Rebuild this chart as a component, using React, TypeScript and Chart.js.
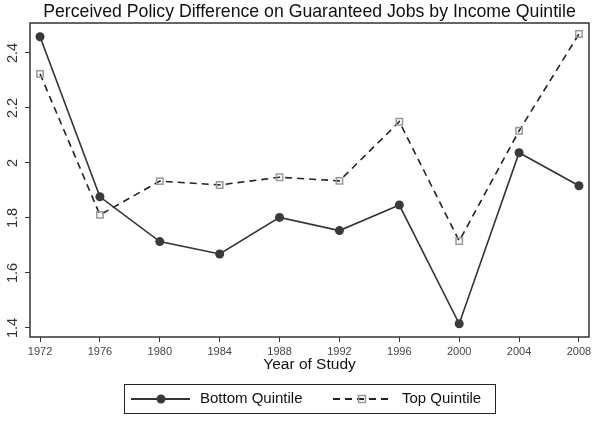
import { useEffect, useRef } from "react";
import { Chart, registerables } from "chart.js";

Chart.register(...registerables);

const title = "Perceived Policy Difference on Guaranteed Jobs by Income Quintile";
const years = [1972, 1976, 1980, 1984, 1988, 1992, 1996, 2000, 2004, 2008];
const bottomQuintile = [2.459, 1.877, 1.714, 1.669, 1.802, 1.754, 1.847, 1.415, 2.037, 1.917];
const topQuintile = [2.324, 1.811, 1.934, 1.92, 1.948, 1.935, 2.15, 1.716, 2.117, 2.469];
const yTicks = [1.4, 1.6, 1.8, 2, 2.2, 2.4];

const FONT = "'Liberation Sans', Arial, Helvetica, sans-serif";

// title over the plot, box around the plot, rotated y labels, framed legend
const framePlugin = {
  id: "frame",
  afterDraw(chart: any) {
    const { ctx, chartArea: a, scales } = chart;
    ctx.save();

    ctx.fillStyle = "#111";
    ctx.font = `17.7px ${FONT}`;
    ctx.textAlign = "center";
    ctx.textBaseline = "middle";
    ctx.fillText(title, (a.left + a.right) / 2, 12);

    ctx.strokeStyle = "#333";
    ctx.lineWidth = 1.5;
    ctx.strokeRect(a.left, a.top, a.right - a.left, a.bottom - a.top);

    ctx.fillStyle = "#333";
    ctx.font = `14.5px ${FONT}`;
    for (const v of yTicks) {
      const y = scales.y.getPixelForValue(v);
      ctx.save();
      ctx.translate(a.left - 17, y);
      ctx.rotate(-Math.PI / 2);
      ctx.fillText(v === 2 ? "2" : String(v), 0, 0);
      ctx.restore();
    }

    // legend
    ctx.strokeStyle = "#222";
    ctx.lineWidth = 1;
    ctx.strokeRect(124.5, 384.5, 371, 29);
    const cy = 399;
    const ds = chart.data.datasets;

    ctx.strokeStyle = ds[0].borderColor;
    ctx.lineWidth = 1.8;
    ctx.beginPath();
    ctx.moveTo(131, cy);
    ctx.lineTo(190, cy);
    ctx.stroke();
    ctx.fillStyle = ds[0].pointBackgroundColor;
    ctx.beginPath();
    ctx.arc(161, cy, 4.5, 0, Math.PI * 2);
    ctx.fill();

    ctx.strokeStyle = ds[1].borderColor;
    ctx.setLineDash(ds[1].borderDash);
    ctx.beginPath();
    ctx.moveTo(333, cy);
    ctx.lineTo(392, cy);
    ctx.stroke();
    ctx.setLineDash([]);
    ctx.strokeStyle = ds[1].pointBorderColor;
    ctx.lineWidth = 1.5;
    ctx.strokeRect(358.5, cy - 3.5, 7, 7);

    ctx.fillStyle = "#111";
    ctx.font = `15px ${FONT}`;
    ctx.textAlign = "left";
    ctx.fillText(ds[0].label, 200, cy);
    ctx.fillText(ds[1].label, 402, cy);
    ctx.restore();
  },
};

export default function App() {
  const canvasRef = useRef<HTMLCanvasElement | null>(null);

  useEffect(() => {
    document.body.style.margin = "0";
    if (!canvasRef.current) return;

    const chart = new Chart(canvasRef.current, {
      type: "line",
      data: {
        datasets: [
          {
            label: "Bottom Quintile",
            data: years.map((x, i) => ({ x, y: bottomQuintile[i] })),
            borderColor: "#333",
            borderWidth: 1.6,
            pointStyle: "circle",
            pointRadius: 4.5,
            pointBackgroundColor: "#3a3a3a",
            pointBorderWidth: 0,
            tension: 0,
          },
          {
            label: "Top Quintile",
            data: years.map((x, i) => ({ x, y: topQuintile[i] })),
            borderColor: "#222",
            borderWidth: 1.6,
            borderDash: [7, 5],
            pointStyle: "rect",
            pointRadius: 4.5,
            pointBackgroundColor: "rgba(0,0,0,0)",
            pointBorderColor: "#999",
            pointBorderWidth: 1.5,
            tension: 0,
          },
        ],
      },
      options: {
        responsive: false,
        animation: false,
        layout: { padding: { left: 0, right: 11, top: 23, bottom: 52 } },
        plugins: {
          legend: { display: false },
          tooltip: { enabled: false },
          title: { display: false },
        },
        scales: {
          x: {
            type: "linear",
            min: 1971.33,
            max: 2008.67,
            afterBuildTicks: (scale: any) => {
              scale.ticks = years.map((value) => ({ value }));
            },
            afterFit: (scale: any) => {
              scale.height = 39;
            },
            border: { display: false },
            grid: { drawOnChartArea: false, drawTicks: true, tickLength: 5, color: "#333" },
            ticks: {
              color: "#444",
              font: { family: FONT, size: 11 },
              padding: 3,
              maxRotation: 0,
              autoSkip: false,
              callback: (v: any) => String(v),
            },
            title: {
              display: true,
              text: "Year of Study",
              color: "#111",
              font: { family: FONT, size: 15.5, lineHeight: 1.2 },
              padding: { top: 0, bottom: 2 },
            },
          },
          y: {
            type: "linear",
            min: 1.367,
            max: 2.509,
            afterBuildTicks: (scale: any) => {
              scale.ticks = yTicks.map((value) => ({ value }));
            },
            afterFit: (scale: any) => {
              scale.width = 30;
            },
            border: { display: false },
            grid: { drawOnChartArea: false, drawTicks: true, tickLength: 5, color: "#333" },
            ticks: { display: false },
          },
        },
      },
      plugins: [framePlugin],
    });

    return () => chart.destroy();
  }, []);

  return <canvas ref={canvasRef} width={600} height={428} />;
}
